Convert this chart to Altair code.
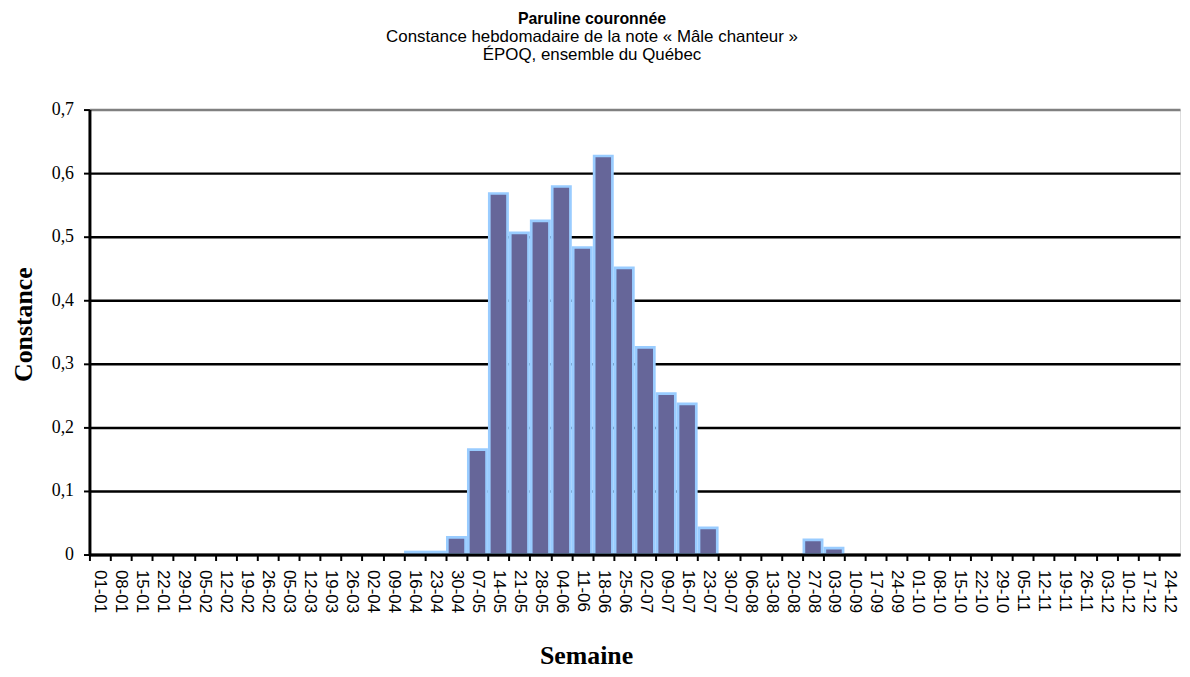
import altair as alt
import pandas as pd

weeks = ["01-01", "08-01", "15-01", "22-01", "29-01", "05-02", "12-02", "19-02", "26-02",
         "05-03", "12-03", "19-03", "26-03", "02-04", "09-04", "16-04", "23-04", "30-04",
         "07-05", "14-05", "21-05", "28-05", "04-06", "11-06", "18-06", "25-06",
         "02-07", "09-07", "16-07", "23-07", "30-07", "06-08", "13-08", "20-08", "27-08",
         "03-09", "10-09", "17-09", "24-09", "01-10", "08-10", "15-10", "22-10", "29-10",
         "05-11", "12-11", "19-11", "26-11", "03-12", "10-12", "17-12", "24-12"]

values = ([0] * 15
          + [0.004, 0.004, 0.027, 0.165, 0.568, 0.506, 0.525, 0.579, 0.483, 0.627,
             0.451, 0.326, 0.253, 0.237, 0.042]
          + [0] * 4
          + [0.023, 0.010]
          + [0] * 16)

y_ticks = [0, 0.1, 0.2, 0.3, 0.4, 0.5, 0.6, 0.7]

df = pd.DataFrame({"week": weeks, "value": values})

chart = alt.Chart(df).transform_filter(
    "datum.value > 0"
).mark_bar(
    fill="#666699", stroke="#99CCFF", strokeWidth=2.7
).encode(
    x=alt.X(
        "week:N",
        sort=weeks,
        scale=alt.Scale(domain=weeks, paddingInner=0.13, paddingOuter=0.065),
        axis=alt.Axis(
            title="Semaine",
            titleFont="Liberation Serif",
            titleFontSize=26,
            titleFontWeight="bold",
            titleColor="black",
            titlePadding=30,
            titleX=500,
            labelAngle=90,
            labelFont="Liberation Sans",
            labelFontSize=17,
            labelColor="black",
            labelPadding=9,
            bandPosition=0,
            tickOffset=-1.4,
            labelOffset=1.4,
            tickSize=6,
            tickWidth=2,
            tickColor="black",
            domainColor="black",
            domainWidth=3,
            grid=False,
            zindex=1,
        ),
    ),
    y=alt.Y(
        "value:Q",
        scale=alt.Scale(domain=[0, 0.7], nice=False),
        axis=alt.Axis(
            title="Constance",
            titleFont="Liberation Serif",
            titleFontSize=26,
            titleFontWeight="bold",
            titleColor="black",
            titlePadding=15,
            titleY=216,
            values=y_ticks,
            labelExpr="datum.value == 0 ? '0' : replace(format(datum.value, '.1f'), '.', ',')",
            labelFont="Liberation Serif",
            labelFontSize=18,
            labelColor="black",
            labelPadding=10,
            tickSize=6,
            tickWidth=2,
            tickColor="black",
            domainColor="black",
            domainWidth=3,
            grid=True,
            gridColor=alt.condition("datum.value >= 0.7", alt.value("#808080"), alt.value("black")),
            gridWidth=2.5,
        ),
    ),
).properties(
    width=1098,
    height=448,
    autosize=alt.AutoSizeParams(type="none"),
    padding={"left": 82, "top": 100, "right": 2, "bottom": 115},
    title=alt.TitleParams(
        text="Paruline couronnée",
        subtitle=["Constance hebdomadaire de la note « Mâle chanteur »", "ÉPOQ, ensemble du Québec"],
        font="Liberation Sans",
        fontSize=16,
        fontWeight="bold",
        color="black",
        subtitleFont="Liberation Sans",
        subtitleFontSize=17,
        subtitleColor="black",
        subtitlePadding=2,
        subtitleLineHeight=18,
        anchor="middle",
        dx=-43,
        offset=38,
    ),
).configure_view(
    stroke="#808080", strokeWidth=3
).configure(background="white")

chart.save("out.html", embed_options={"renderer": "svg", "actions": False})
